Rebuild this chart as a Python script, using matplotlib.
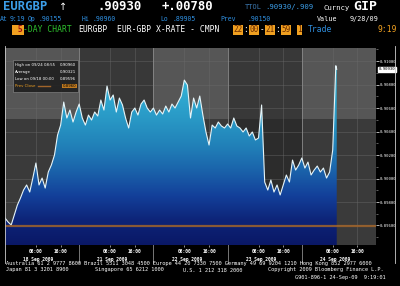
import numpy as np
import matplotlib
matplotlib.use("Agg")
import matplotlib.pyplot as plt
from matplotlib.colors import LinearSegmentedColormap
from matplotlib.lines import Line2D
from matplotlib.patches import Rectangle

# EUR-GBP, hourly closes from 22:00 on 17 Sep (5 trading days)
prices = [
    0.89664, 0.89630, 0.89604, 0.89689, 0.89774, 0.89834, 0.89902, 0.89945,
    0.89885, 0.90004, 0.90132, 0.89945, 0.90004, 0.89919, 0.90055, 0.90115,
    0.90200, 0.90370, 0.90455, 0.90651, 0.90515, 0.90583, 0.90481, 0.90566,
    0.90634, 0.90515, 0.90455, 0.90540, 0.90498, 0.90566, 0.90532, 0.90668,
    0.90583, 0.90787, 0.90668, 0.90711, 0.90566, 0.90685, 0.90626, 0.90515,
    0.90430, 0.90566, 0.90600, 0.90540, 0.90634, 0.90668, 0.90600, 0.90566,
    0.90600, 0.90540, 0.90583, 0.90549, 0.90617, 0.90566, 0.90634, 0.90600,
    0.90651, 0.90702, 0.90838, 0.90796, 0.90515, 0.90685, 0.90600, 0.90702,
    0.90540, 0.90396, 0.90285, 0.90455, 0.90430, 0.90481, 0.90447, 0.90430,
    0.90464, 0.90430, 0.90515, 0.90447, 0.90430, 0.90396, 0.90430, 0.90362,
    0.90396, 0.90328, 0.90345, 0.90626, 0.89970, 0.89902, 0.89987, 0.89885,
    0.89945, 0.89860, 0.89945, 0.90030, 0.89970, 0.90157, 0.90072, 0.90115,
    0.90175, 0.90089, 0.90140, 0.90030, 0.90072, 0.90106, 0.90055, 0.90089,
    0.90004, 0.90055, 0.90243, 0.90960, 0.90930,
]
hours = [h for h in range(len(prices) - 1)] + [107.3]

days = ['18 Sep 2009', '21 Sep 2009', '22 Sep 2009', '23 Sep 2009', '24 Sep 2009']
tick_hours = [10, 18]          # 08:00 and 16:00 after the 22:00 start
tick_names = ['08:00', '16:00']
yticks = [0.896, 0.898, 0.900, 0.902, 0.904, 0.906, 0.908, 0.910]
last_price = 0.90930
prev_close = 0.89596

legend_rows = [('High on 09/24 08:55', '0.90960'),
               ('Average', '0.90321'),
               ('Low on 09/18 00:00', '0.89596')]

mono = 'DejaVu Sans Mono'
blue = '#2f8fe0'
orange = '#f0a020'

fig = plt.figure(figsize=(4, 2.86), dpi=100, facecolor='black')
ax = fig.add_axes([5/400, 1 - 245/286, 371/400, 197/286])
ymin, ymax = 0.89434, 0.91111
ax.set_xlim(0, 24 * len(days))
ax.set_ylim(ymin, ymax)
ax.set_facecolor('#303030')

# day background bands
for i in range(len(days)):
    if i % 2 == 0:
        ax.axvspan(24*i, 24*(i+1), color='#3a3a3a', zorder=0, lw=0)
        ax.axvspan(24*i, 24*(i+1), ymin=0.64, ymax=1, color='#565656', zorder=0, lw=0)
    else:
        ax.axvspan(24*i, 24*(i+1), color='#2c2c2c', zorder=0, lw=0)
        ax.axvspan(24*i, 24*(i+1), ymin=0.64, ymax=1, color='#383838', zorder=0, lw=0)

for y in yticks:
    ax.axhline(y, color='#6a6a6a', lw=0.5, alpha=0.6, zorder=1)
for i in range(len(days)):
    for h in tick_hours:
        ax.axvline(24*i + h, color='#6a6a6a', lw=0.5, alpha=0.6, zorder=1)
    if i > 0:
        ax.axvline(24*i, ymin=-0.09, ymax=1, color='#8a8a8a', lw=0.6,
                   zorder=1, clip_on=False)

# gradient area
cmap = LinearSegmentedColormap.from_list('blb', [
    '#0a1866', '#0d2478', '#13409a', '#1a62aa', '#2180b8',
    '#2896c4', '#2fa8d0', '#38bcdc', '#40cce8'])
poly = ax.fill_between(hours, prices, ymin, color='none', lw=0)
grad = np.linspace(0, 1, 256).reshape(-1, 1)
img = ax.imshow(grad, cmap=cmap, origin='lower', aspect='auto',
                extent=[0, 24*len(days), ymin, ymax], zorder=2)
img.set_clip_path(poly.get_paths()[0], transform=ax.transData)
ax.plot(hours, prices, color='#e6f4f8', lw=0.8, zorder=3)

ax.axhline(prev_close, color='#a0642a', lw=1.6, alpha=0.85, zorder=4)

# axes
for s in ax.spines.values():
    s.set_visible(False)
ax.yaxis.tick_right()
ax.set_yticks(yticks)
ax.set_yticklabels(['%.5f' % v for v in yticks])
ax.set_yticks(np.arange(0.895, 0.911, 0.001), minor=True)
ax.tick_params(axis='y', which='major', colors='white', labelsize=2.9,
               length=2, width=0.5, pad=1)
ax.tick_params(axis='y', which='minor', colors='#aaaaaa', length=1.2, width=0.4)
for lab in ax.get_yticklabels():
    lab.set_family(mono)

xt = [24*i + h for i in range(len(days)) for h in tick_hours]
ax.set_xticks(xt)
ax.set_xticklabels(tick_names * len(days))
ax.tick_params(axis='x', colors='white', labelsize=3.3, length=1.5,
               width=0.4, pad=1.5)
for lab in ax.get_xticklabels():
    lab.set_family(mono)
    lab.set_weight('bold')
for i, d in enumerate(days):
    ax.text(24*i + tick_hours[0] + 0.8, -0.075, d, transform=ax.get_xaxis_transform(),
            ha='center', va='center', color='white', fontsize=3.3,
            family=mono, weight='bold')

ax.text(1.008, last_price, '%.5f' % last_price, transform=ax.get_yaxis_transform(),
        ha='left', va='center', fontsize=2.9, family=mono, color='black',
        bbox=dict(boxstyle='square,pad=0.15', fc='white', ec='white'))

# legend box
ax.add_patch(Rectangle((0.022, 0.775), 0.176, 0.165, transform=ax.transAxes,
                       fc='#1c1c1c', ec='#8a8a8a', lw=0.5, alpha=0.85, zorder=6))
for k, (name, val) in enumerate(legend_rows):
    yy = 0.915 - k*0.036
    ax.text(0.028, yy, name, transform=ax.transAxes, fontsize=2.8, color='white',
            va='center', zorder=7)
    ax.text(0.192, yy, val, transform=ax.transAxes, fontsize=2.8, color='white',
            va='center', ha='right', zorder=7)
ax.text(0.028, 0.807, 'Prev Close', transform=ax.transAxes, fontsize=2.8,
        color=orange, va='center', zorder=7)
ax.plot([0.09, 0.12], [0.807, 0.807], transform=ax.transAxes, color='#a0642a',
        lw=1, zorder=7)
ax.text(0.192, 0.807, '%.4f' % prev_close, transform=ax.transAxes, fontsize=2.8,
        color='black', va='center', ha='right', zorder=7,
        bbox=dict(boxstyle='square,pad=0.1', fc='#c07a20', ec='none'))

# frame lines
fig.add_artist(Line2D([5/400, 5/400], [1 - 46/286, 1 - 263/286], color='#cccccc', lw=0.6))
fig.add_artist(Line2D([395/400, 395/400], [1 - 46/286, 1 - 263/286], color='#cccccc', lw=0.6))


def ft(x, y, s, **kw):
    kw.setdefault('family', mono)
    fig.text(x/400, 1 - y/286, s, va='center', **kw)


# header line 1
ft(3, 7, 'EURGBP', color='#3c9ee8', fontsize=8.8, weight='bold')
ft(59, 7, '\u2191', color='white', fontsize=7, family='DejaVu Sans')
ft(97, 7, '.90930', color='white', fontsize=8.8, weight='bold')
ft(162, 7, '+.00780', color='white', fontsize=8.8, weight='bold')
ft(245, 7, 'TTOL', color='#3c78b0', fontsize=5)
ft(265, 7, '.90930/.909', color='#3c9ee8', fontsize=5.2)
ft(324, 8, 'Curncy', color='white', fontsize=5.2)
ft(353, 6, 'GIP', color='white', fontsize=9.5, weight='bold')

# header line 2
for x, s in [(0, 'At'), (10, '9:19'), (28, 'Op'), (38, '.90155'), (82, 'Hi'),
             (93, '.90960'), (160, 'Lo'), (172, '.89905'), (220, 'Prev'),
             (247, '.90150')]:
    ft(x, 19, s, color=blue, fontsize=4.7)
ft(317, 19, 'Value', color='white', fontsize=4.9)
ft(350, 19, '9/28/09', color='white', fontsize=4.9)

# header line 3
ft(13, 30, ' 5', color='#a01010', fontsize=5.8, weight='bold',
   bbox=dict(boxstyle='square,pad=0.1', fc=orange, ec='none'))
ft(23, 30, '-DAY CHART', color='#2ec02e', fontsize=5.8)
ft(78, 30, 'EURGBP', color='white', fontsize=5.8)
ft(117, 30, 'EUR-GBP X-RATE - CMPN', color='white', fontsize=5.8)
for x, s in [(233, '22'), (249, '00'), (265, '21'), (281, '59'), (297, '1')]:
    ft(x, 30, s, color='#6a2a00', fontsize=5.5,
       bbox=dict(boxstyle='square,pad=0.05', fc=orange, ec='none'))
ft(243.5, 30, ':', color='white', fontsize=5.5)
ft(259.5, 30, '-', color='white', fontsize=5.5)
ft(275.5, 30, ':', color='white', fontsize=5.5)
ft(308, 30, 'Trade', color=blue, fontsize=5.8)
ft(378, 30, '9:19', color=orange, fontsize=5.8)

# footer
ft(6, 264, 'Australia 61 2 9777 8600 Brazil 5511 3048 4500 Europe 44 20 7330 7500 '
   'Germany 49 69 9204 1210 Hong Kong 852 2977 6000', color='white', fontsize=3.8)
ft(6, 270, 'Japan 81 3 3201 8900', color='white', fontsize=3.8)
ft(95, 270, 'Singapore 65 6212 1000', color='white', fontsize=3.8)
ft(183, 270, 'U.S. 1 212 318 2000', color='white', fontsize=3.8)
ft(268, 270, 'Copyright 2009 Bloomberg Finance L.P.', color='white', fontsize=3.8)
ft(295, 277, 'G901-896-1 24-Sep-09  9:19:01', color='white', fontsize=3.8)

fig.savefig('out.png', dpi=100, facecolor='black')
